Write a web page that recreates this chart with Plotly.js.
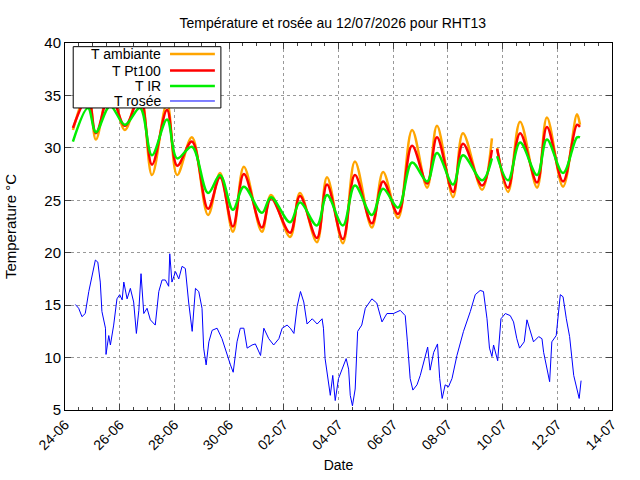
<!DOCTYPE html>
<html><head><meta charset="utf-8">
<script src="https://cdn.plot.ly/plotly-3.0.1.min.js"></script>
<style>body{margin:0}#p{width:640px;height:480px}</style>
</head><body><div id="p"></div>
<script>
var baseDate = Date.UTC(2026,5,24);
var tDays = [0.29,0.84,1.13,1.65,2.19,2.74,3.18,3.73,4.1,4.64,5.23,5.67,6.14,6.54,7.2,7.53,8.23,8.59,9.21,9.58,10.16,10.6,11.22,11.63,12.18,12.69,13.24,13.6,14.19,14.55,15.25,15.61,15.7,15.8,16.2,16.64,17.26,17.62,18.21,18.72,18.83];
var tAmb = [31.7,35.5,30.8,36,31.7,35.5,27.4,34.3,27.4,31,23.6,27.6,22,28.2,22,25.5,21.5,25.7,21,27.2,20.9,28.7,22.4,27.7,23.3,31.7,26.2,32.1,25.3,31.4,26,30.9,null,30,25.8,32.5,26.2,32.9,26.3,33.2,32.2];
var tPt = [31.9,34.8,31.4,35.2,32.1,34.8,28.4,33.6,28.3,30.6,24.2,27.2,22.5,27.5,22.4,25.2,21.9,25.4,21.4,26.5,21.3,27.4,22.8,26.8,23.7,30.2,26.6,31,25.8,30.4,26.4,29.8,null,29.9,26.2,31.4,26.7,32,26.8,32.2,32.0];
var tIR = [30.6,33.8,31.5,34,32.2,33.8,29.3,32.7,29,30.1,25.7,27.4,24.1,26.3,23.8,25.3,22.9,24.8,22.6,25.5,22.6,26.4,23.6,26.1,24.3,28.6,26.8,29.5,26.5,29.3,26.9,29,null,29.2,26.9,30.5,27.4,30.8,27.6,31,31];
var dDays = [0.38,0.5,0.62,0.74,0.87,0.99,1.11,1.2,1.29,1.35,1.48,1.5,1.6,1.66,1.78,1.9,2.0,2.09,2.15,2.27,2.39,2.51,2.61,2.7,2.78,2.88,3.0,3.12,3.3,3.43,3.55,3.67,3.79,3.83,3.91,4.04,4.16,4.28,4.4,4.52,4.65,4.77,4.89,5.01,5.07,5.16,5.26,5.38,5.56,5.74,5.93,6.05,6.15,6.29,6.41,6.54,6.66,6.84,6.96,7.15,7.27,7.45,7.63,7.82,7.94,8.12,8.24,8.37,8.49,8.61,8.73,8.85,9.04,9.22,9.4,9.45,9.51,9.6,9.7,9.79,9.88,10.0,10.12,10.28,10.37,10.43,10.51,10.61,10.7,10.85,10.98,11.22,11.4,11.59,11.77,12.01,12.26,12.44,12.52,12.62,12.72,12.87,12.99,13.17,13.26,13.35,13.48,13.62,13.7,13.79,13.9,14.02,14.15,14.33,14.57,14.82,15.0,15.18,15.3,15.43,15.52,15.61,15.67,15.82,15.94,16.1,16.28,16.4,16.52,16.62,16.79,16.89,17.01,17.13,17.32,17.44,17.5,17.62,17.72,17.8,17.96,18.11,18.21,18.33,18.45,18.6,18.72,18.8,18.87];
var tDew = [15.06,14.7,13.9,14.2,16.3,17.9,19.3,19.1,17.2,14.4,12.8,10.3,12.1,11.2,13.1,15.6,16,15.5,17.2,15.6,16.6,15.3,12.3,14.5,18,14.2,14.7,13.6,13.1,16.3,17.4,17.4,16.8,19.9,17.2,18.2,17.5,18.7,18.5,15.3,12.5,16.6,16.3,14.7,10.9,9.3,11.5,12.6,12.8,11.8,10.2,9.3,8.6,11.5,12.8,12.8,10.9,11.2,11.3,10.2,12.8,11.8,11.2,11.8,12.8,13.1,12.8,12.3,14.9,16.3,15.3,13.2,13.7,13.2,13.7,12.8,9.9,8.3,6.4,8.3,5.9,8.0,8.9,9.9,8.9,6.4,5.4,7.0,12.5,13.1,14.7,15.6,15.2,13.4,14.2,14.2,14.5,14.0,11.5,8.0,6.9,7.4,8.3,10.2,11.0,8.8,10.5,11.3,8.0,6.1,7.4,7.2,8.0,10.2,12.5,14.4,16,16.4,16.3,13.7,10.9,10.1,11.2,9.7,13.7,14.2,14.0,13.4,11.8,10.9,11.5,13.6,12.5,11.5,12.0,11.8,10.5,8.9,7.7,11.5,12.1,16,15.8,13.7,12.0,8.3,7.0,6.1,7.8];
var names = ["T ambiante","T Pt100","T IR","T rosée"];
var colors = ["#ffa500","#ff0000","#00ee00","#0000ff"];

function toDate(d){ return new Date(baseDate + d*86400000).toISOString(); }
var tx = tDays.map(toDate), dx = dDays.map(toDate);
var traces = [
 {x:tx,y:tAmb,mode:'lines',line:{color:colors[0],width:2.5,shape:'spline'},name:names[0]},
 {x:tx,y:tPt,mode:'lines',line:{color:colors[1],width:2.5,shape:'spline'},name:names[1]},
 {x:tx,y:tIR,mode:'lines',line:{color:colors[2],width:2.5,shape:'spline'},name:names[2]},
 {x:dx,y:tDew,mode:'lines',line:{color:colors[3],width:1},name:names[3]}
];
var ly = [0.97,0.925,0.883,0.842];
var ann = [], shp = [{type:'rect',xref:'paper',yref:'paper',x0:0.015,x1:0.285,y0:0.823,y1:0.99,line:{color:'#000',width:1},fillcolor:'#fff',layer:'above'}];
names.forEach(function(n,i){
 ann.push({xref:'paper',yref:'paper',x:0.179,y:ly[i],text:n,showarrow:false,xanchor:'right',yanchor:'middle',font:{size:14,color:'#000'}});
 shp.push({type:'line',xref:'paper',yref:'paper',x0:0.192,x1:0.274,y0:ly[i],y1:ly[i],line:{color:colors[i],width:i==3?1:2.5},layer:'above'});
});
var font = {family:'Liberation Sans, Arial, sans-serif',size:14,color:'#000'};
var layout = {
 width:640,height:480,font:font,showlegend:false,
 margin:{l:65,r:28,t:43,b:70},
 title:{text:'Température et rosée au 12/07/2026 pour RHT13',x:0.52,y:0.962,font:{size:14}},
 xaxis:{type:'date',range:[toDate(0),toDate(20)],dtick:2*86400000,tick0:toDate(0),tickformat:'%d-%m',tickangle:-45,
  showgrid:true,gridcolor:'#999',griddash:'dot',ticks:'inside',ticklen:6,mirror:'ticks',showline:true,linecolor:'#000',zeroline:false,
  minor:{dtick:0.5*86400000,ticks:'inside',ticklen:3,showgrid:false},
  tickfont:{size:14},
  title:{text:'Date',font:{size:14},standoff:8}},
 yaxis:{range:[5,40],dtick:5,showgrid:true,gridcolor:'#999',griddash:'dot',ticks:'inside',ticklen:6,mirror:'ticks',showline:true,linecolor:'#000',zeroline:false,
  tickfont:{size:15},title:{text:'Temperature °C',font:{size:15},standoff:24}},
 annotations:ann,shapes:shp,plot_bgcolor:'#fff',paper_bgcolor:'#fff'
};
Plotly.newPlot('p',traces,layout,{staticPlot:true});
</script></body></html>
